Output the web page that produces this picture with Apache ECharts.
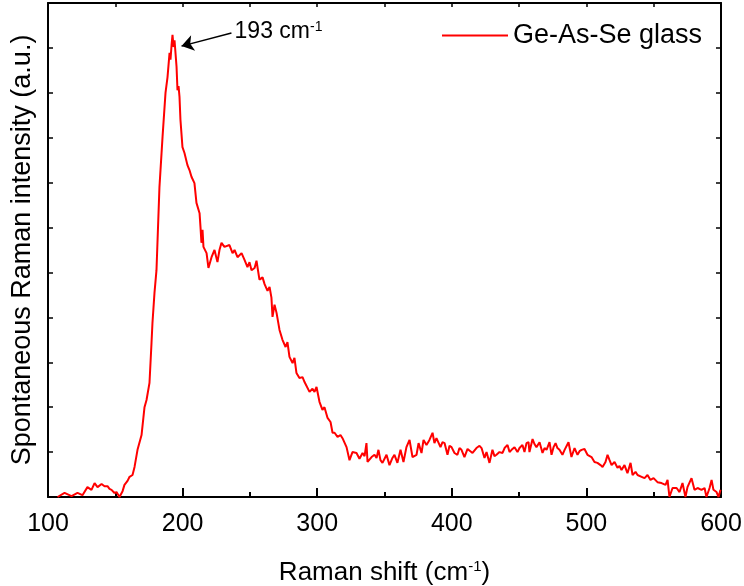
<!DOCTYPE html>
<html>
<head>
<meta charset="utf-8">
<script src="https://cdn.jsdelivr.net/npm/echarts@6/dist/echarts.min.js"></script>
<style>html,body{margin:0;padding:0;background:#fff;}#c{width:744px;height:586px;}</style>
</head>
<body>
<div id="c"></div>
<script>
var ramanShift = [107.1,112.3,117.5,121.9,125.6,129.3,132.3,134.6,136.8,139.8,142.0,144.2,145.7,147.2,149.4,150.9,153.1,155.4,156.8,159.1,160.6,162.8,164.3,166.5,169.5,171.7,173.2,175.4,176.9,177.6,179.1,180.6,182.8,185.1,187.3,188.8,190.3,191.0,191.8,192.5,193.3,194.0,195.5,196.2,197.0,197.7,198.4,199.9,201.4,203.6,205.1,206.6,208.8,210.3,212.6,213.3,214.0,214.8,215.5,217.8,219.2,221.5,223.7,225.9,227.4,228.9,231.1,234.8,237.1,238.6,240.8,243.8,246.0,248.2,249.7,251.2,253.5,254.9,257.1,259.4,260.9,263.1,264.6,266.0,266.8,268.3,269.8,272.0,274.2,276.5,277.9,279.4,281.7,283.1,284.6,286.8,289.1,290.6,292.0,294.3,296.5,298.0,299.5,301.7,303.9,305.4,307.7,309.9,311.4,312.9,315.1,317.3,318.8,321.8,324.0,326.2,329.2,331.4,333.7,335.2,336.6,337.4,340.4,342.6,344.1,345.5,347.0,348.5,351.5,353.7,355.9,357.4,359.6,361.9,364.1,366.3,368.6,370.8,373.8,375.3,377.5,379.0,381.2,383.4,385.7,387.1,388.6,391.6,393.1,394.6,396.8,398.3,399.8,402.0,404.2,405.7,407.2,409.4,411.7,413.1,415.4,418.3,420.6,422.1,424.3,425.8,428.0,430.2,431.7,433.2,435.4,437.7,439.2,441.4,442.9,444.4,446.6,448.8,450.3,452.5,454.0,455.5,457.0,457.7,460.0,461.4,462.9,465.2,467.4,468.9,470.4,472.6,474.1,475.6,477.1,478.5,480.0,482.2,483.8,485.2,486.7,488.9,491.2,493.4,494.9,496.4,498.6,500.8,503.8,506.0,508.2,510.5,512.0,514.2,515.7,517.2,518.7,520.9,523.1,524.6,526.1,528.3,530.5,532.8,534.3,536.5,538.0,541.0,543.2,545.4,547.6,549.9,552.8,555.8,558.8,560.3,561.7,564.0,567.0,569.2,571.4,573.6,575.1,578.1,580.3,582.6,585.5,587.8,589.2,591.5,593.0,594.4,596.7,598.2,599.6];
var intensity = [0,0.9,0.2,0.9,0.4,2.2,1.6,3.1,2.2,2.9,2.4,2.4,1.8,1.6,0.9,1.1,0,1.3,2.7,3.6,4.5,4.9,6.7,10.5,13.8,20.0,21.6,25.4,34.3,38.7,45.4,50.5,69.0,80.2,90.0,93.5,98.9,97.4,100.6,102.9,100.2,101.7,95.8,90.6,91.5,89.1,84.0,77.9,76.6,73.9,72.8,71.3,69.9,65.5,63.2,60.1,56.6,59.5,55.7,54.3,51.0,53.4,55.0,52.3,55.0,56.6,55.7,56.1,54.3,55.0,53.4,54.3,52.8,51.2,52.3,50.5,51.0,52.6,48.4,48.9,47.4,45.9,46.8,44.4,40.1,42.8,41.0,37.2,35.0,33.4,34.5,31.2,29.8,31.0,27.6,26.5,26.7,25.6,25.4,23.4,24.1,23.4,24.5,21.2,19.4,20.0,17.6,16.7,14.3,14.3,13.4,13.8,13.1,11.1,8.2,10.0,9.8,8.5,9.8,9.1,12.0,7.8,8.9,9.4,8.7,10.5,8.2,7.6,9.4,7.1,8.7,9.4,7.6,10.5,7.8,11.1,12.7,8.9,9.4,12.0,9.8,12.7,11.6,12.7,14.3,12.0,13.1,11.1,12.2,12.0,9.4,11.4,11.1,9.8,9.4,10.9,10.5,8.9,10.7,10.5,9.8,10.9,11.4,10.9,8.7,10.0,7.6,10.5,9.1,9.4,10.0,9.8,10.9,11.6,10.0,10.5,11.1,10.0,10.9,11.6,10.0,12.0,12.2,10.0,12.9,11.8,11.1,12.2,9.8,10.9,10.5,12.2,9.4,11.1,12.0,10.9,10.5,9.4,10.5,10.9,12.2,8.9,10.9,9.4,10.2,10.5,10.7,9.4,8.9,7.8,7.6,7.1,6.7,7.8,9.4,8.2,7.1,7.8,6.5,6.9,6.0,7.1,5.3,7.6,4.9,5.6,4.9,4.5,4.2,4.9,3.8,4.2,3.3,3.1,2.7,3.8,0,2.0,2.0,1.1,3.1,0,2.2,4.2,1.6,2.0,1.6,2.0,0,2.0,3.8,1.6,1.1,0,1.6];
var xTicks = [100,200,300,400,500,600];
var seriesName = 'Ge-As-Se glass';
var peakLabelPos = [238.6, 103.6];
var arrowFrom = [236.3, 103.3];
var arrowTo = [199.2, 100.4];

var data = ramanShift.map(function(x,i){return [x,intensity[i]];});
var font = 'Liberation Sans, Arial, sans-serif';
var chart = echarts.init(document.getElementById('c'), null, {renderer:'canvas'});
chart.setOption({
  animation:false,
  backgroundColor:'#fff',
  grid:{left:48,right:23,top:3,bottom:89,show:false,containLabel:false,outerBoundsMode:'none'},
  legend:{
    show:true, left:437, top:17, itemWidth:66, itemHeight:14, itemGap:10,
    textStyle:{fontFamily:font,fontSize:27,color:'#000'},
    data:[{name:seriesName, icon:'path://M0,0L66,0L66,2.2L0,2.2Z'}]
  },
  xAxis:[{
    type:'value', min:xTicks[0], max:xTicks[xTicks.length-1], interval:100,
    position:'bottom',
    axisLine:{show:true,onZero:false,lineStyle:{color:'#000',width:2}},
    axisTick:{show:true,inside:true,length:9,lineStyle:{color:'#000',width:2}},
    minorTick:{show:true,splitNumber:2,length:5,lineStyle:{color:'#000',width:2}},
    splitLine:{show:false},
    axisLabel:{margin:15,fontFamily:font,fontSize:25,color:'#000'},
    name:'{a|Raman shift (cm}{s|-1}{a|)}', nameLocation:'middle', nameGap:62,
    nameTextStyle:{fontFamily:font,fontSize:26,color:'#000',
      rich:{a:{fontFamily:font,fontSize:26,color:'#000'},s:{fontFamily:font,fontSize:15,color:'#000',verticalAlign:'top',padding:[0,0,12,0]}}}
  },{
    type:'value', min:xTicks[0], max:xTicks[xTicks.length-1], interval:50,
    position:'top',
    axisLine:{show:true,onZero:false,lineStyle:{color:'#000',width:2}},
    axisTick:{show:true,inside:true,length:4,lineStyle:{color:'#000',width:1.5}},
    axisLabel:{show:false}, splitLine:{show:false}
  }],
  yAxis:[{
    type:'value', min:0, max:110, interval:10, position:'left',
    axisLine:{show:true,onZero:false,lineStyle:{color:'#000',width:2}},
    axisTick:{show:true,inside:true,length:5,lineStyle:{color:'#000',width:1.5}},
    axisLabel:{show:false}, splitLine:{show:false},
    name:'Spontaneous Raman intensity (a.u.)', nameLocation:'middle', nameGap:12,
    nameTextStyle:{fontFamily:font,fontSize:27,color:'#000'}
  },{
    type:'value', min:0, max:110, interval:10, position:'right',
    axisLine:{show:true,onZero:false,lineStyle:{color:'#000',width:2}},
    axisTick:{show:true,inside:true,length:5,lineStyle:{color:'#000',width:1.5}},
    axisLabel:{show:false}, splitLine:{show:false}
  }],
  series:[{
    name:seriesName, type:'line', data:data, showSymbol:false, symbol:'none',
    lineStyle:{color:'#ff0000',width:2}, itemStyle:{color:'#ff0000'},
    clip:true,
    markLine:{
      silent:true, symbol:['none','arrow'], symbolSize:12,
      lineStyle:{color:'#000',width:1.5,type:'solid'},
      itemStyle:{color:'#000'},
      label:{show:false},
      data:[[{coord:arrowFrom},{coord:arrowTo}]]
    },
    markPoint:{
      silent:true, symbol:'circle', symbolSize:0,
      data:[{coord:peakLabelPos, value:193}],
      label:{show:true, position:'right', distance:0,
        formatter:'{a|193 cm}{s|-1}',
        rich:{a:{fontFamily:font,fontSize:23,color:'#000'},s:{fontFamily:font,fontSize:14,color:'#000',verticalAlign:'top',padding:[0,0,10,0]}}}
    }
  }]
});
</script>
</body>
</html>
